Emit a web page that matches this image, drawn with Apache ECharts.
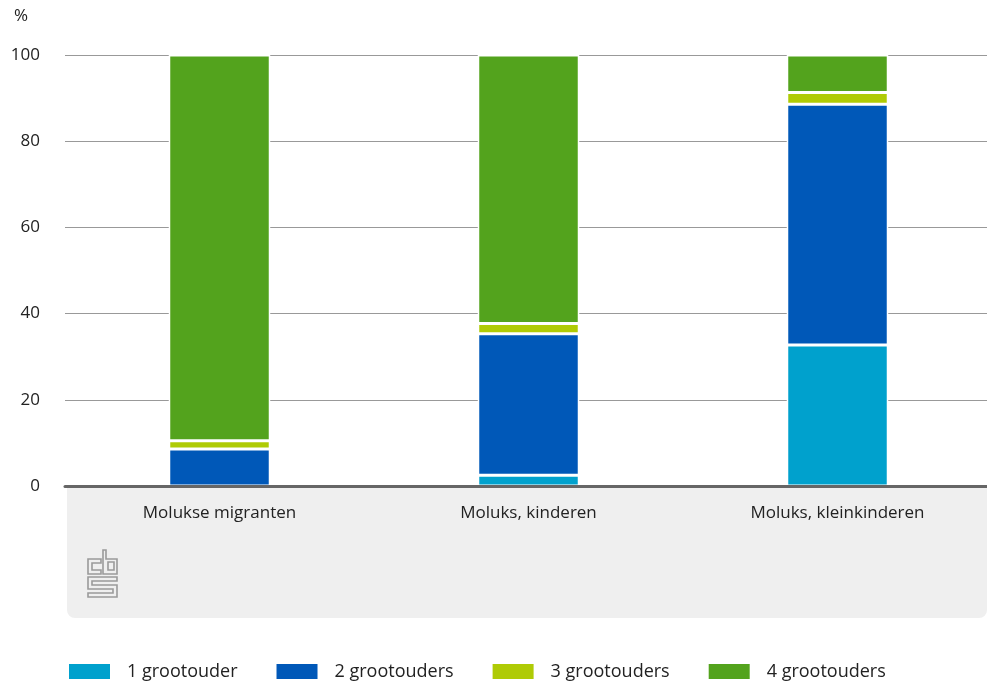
<!DOCTYPE html>
<html>
<head>
<meta charset="utf-8">
<script src="https://cdn.jsdelivr.net/npm/echarts@6/dist/echarts.min.js"></script>
<style>html,body{margin:0;padding:0;background:#fff}#c{width:987px;height:682px}</style>
</head>
<body>
<div id="c"></div>
<script>
const categories = ['Molukse migranten', 'Moluks, kinderen', 'Moluks, kleinkinderen'];
const seriesNames = ['1 grootouder', '2 grootouders', '3 grootouders', '4 grootouders'];
const oneGrandparent = [0, 2.5, 32.7];
const twoGrandparents = [8.6, 32.8, 55.9];
const threeGrandparents = [1.9, 2.4, 2.7];
const fourGrandparents = [89.5, 62.3, 8.7];
const yTicks = [0, 20, 40, 60, 80, 100];
const colors = ['#00A1CD', '#0058B8', '#AFCB05', '#53A31D'];

const FONT = 'Open Sans';
const chart = echarts.init(document.getElementById('c'), null, {renderer: 'canvas'});
const values = [oneGrandparent, twoGrandparents, threeGrandparents, fourGrandparents];
const logoStyle = {fill: 'none', stroke: '#9a9a9a', lineWidth: 1.6};

chart.setOption({
  animation: false,
  color: colors,
  textStyle: {fontFamily: FONT},
  grid: {left: 65, right: -5, top: 55, bottom: 196, outerBoundsMode: 'none', containLabel: false},
  graphic: [
    {type: 'rect', z: -10, silent: true,
     shape: {x: 67, y: 487, width: 920, height: 131, r: [0, 0, 8, 8]},
     style: {fill: '#efefef'}},
    {type: 'text', x: 14, y: 8, silent: true,
     style: {text: '%', fontSize: 17, fontFamily: FONT, fill: '#222'}},
    {type: 'polygon', silent: true,
     shape: {points: [[103,550],[106,550],[106,559],[117,559],[117,574],[103,574]]}, style: logoStyle},
    {type: 'rect', silent: true, shape: {x: 108, y: 562, width: 6, height: 8}, style: logoStyle},
    {type: 'polygon', silent: true,
     shape: {points: [[101,559],[88,559],[88,574],[101,574],[101,570],[92,570],[92,563],[101,563]]}, style: logoStyle},
    {type: 'polygon', silent: true,
     shape: {points: [[117,577],[88,577],[88,589],[113,589],[113,593],[88,593],[88,597],[117,597],[117,585],[92,585],[92,581],[117,581]]}, style: logoStyle}
  ],
  legend: {
    left: 67, top: 662, padding: 0, icon: 'rect', itemWidth: 43, itemHeight: 17, itemGap: 37,
    data: seriesNames,
    textStyle: {fontSize: 18, color: '#222', fontFamily: FONT, padding: [0, 0, 0, 11]}
  },
  xAxis: {
    type: 'category', data: categories, z: 10,
    axisLine: {lineStyle: {color: '#666', width: 3}},
    axisTick: {show: false},
    axisLabel: {fontSize: 17, color: '#222', margin: 19, fontFamily: FONT}
  },
  yAxis: {
    type: 'value', min: 0, max: 100, interval: 20,
    axisLine: {show: false}, axisTick: {show: false},
    splitLine: {lineStyle: {color: '#999', width: 1}},
    axisLabel: {fontSize: 17, color: '#222', margin: 25, fontFamily: FONT,
      formatter: v => yTicks.includes(v) ? String(v) : ''}
  },
  series: seriesNames.map((name, i) => ({
    name, type: 'bar', stack: 'total', barWidth: 101.5,
    itemStyle: {color: colors[i], borderColor: '#fff', borderWidth: 1.5},
    data: values[i]
  }))
});
</script>
</body>
</html>
